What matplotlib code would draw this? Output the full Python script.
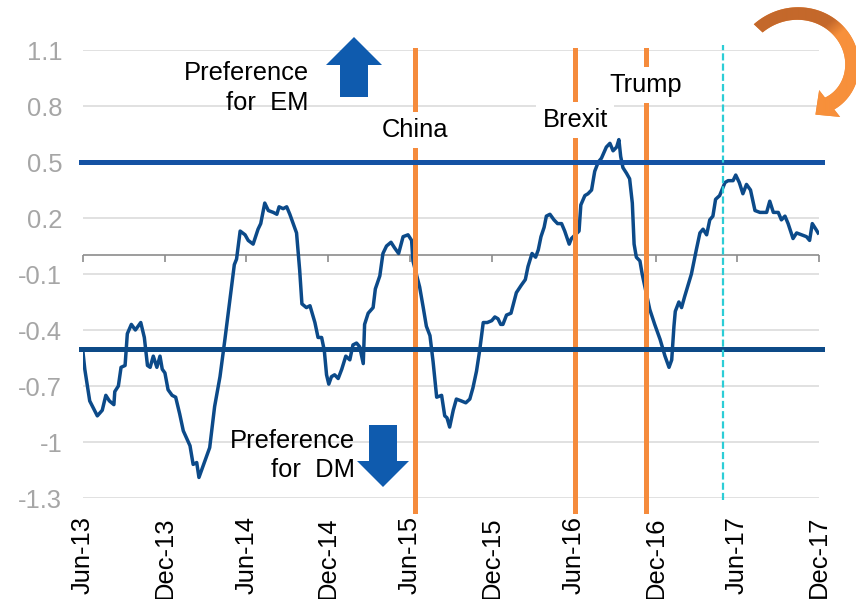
import numpy as np
import pandas as pd
import matplotlib.pyplot as plt
from matplotlib.patches import FancyArrow, Polygon
from matplotlib.colors import to_rgb

plt.rcParams['font.family'] = ['Liberation Sans', 'DejaVu Sans']

# EM vs DM preference indicator
dates = [
    '2013-06-01', '2013-06-05', '2013-06-16', '2013-07-03', '2013-07-14', '2013-07-22', '2013-07-30',
    '2013-08-09', '2013-08-11', '2013-08-19', '2013-08-25', '2013-09-03', '2013-09-08', '2013-09-17',
    '2013-09-26', '2013-10-08', '2013-10-16', '2013-10-23', '2013-10-29', '2013-11-05', '2013-11-13',
    '2013-11-20', '2013-11-25', '2013-12-01', '2013-12-08', '2013-12-17', '2013-12-25', '2014-01-03',
    '2014-01-11', '2014-01-26', '2014-02-02', '2014-02-10', '2014-02-15', '2014-02-24', '2014-03-11',
    '2014-03-22', '2014-04-03', '2014-04-14', '2014-04-25', '2014-05-05', '2014-05-10', '2014-05-18',
    '2014-05-29', '2014-06-05', '2014-06-16', '2014-06-27', '2014-07-03', '2014-07-12', '2014-07-20',
    '2014-07-31', '2014-08-08', '2014-08-13', '2014-08-22', '2014-08-30', '2014-09-06', '2014-09-21',
    '2014-09-28', '2014-10-03', '2014-10-13', '2014-10-21', '2014-11-01', '2014-11-08', '2014-11-16',
    '2014-11-22', '2014-11-27', '2014-12-02', '2014-12-08', '2014-12-15', '2014-12-23', '2014-12-31',
    '2015-01-09', '2015-01-18', '2015-01-25', '2015-02-02', '2015-02-09', '2015-02-17', '2015-02-20',
    '2015-02-28', '2015-03-11', '2015-03-16', '2015-03-26', '2015-04-02', '2015-04-10', '2015-04-20',
    '2015-04-28', '2015-05-07', '2015-05-17', '2015-05-28', '2015-06-05', '2015-06-08', '2015-06-23',
    '2015-07-01', '2015-07-08', '2015-07-16', '2015-07-23', '2015-07-31', '2015-08-11', '2015-08-18',
    '2015-08-23', '2015-08-29', '2015-09-06', '2015-09-13', '2015-09-24', '2015-10-04', '2015-10-13',
    '2015-10-20', '2015-10-28', '2015-11-04', '2015-11-12', '2015-11-21', '2015-12-01', '2015-12-08',
    '2015-12-15', '2015-12-21', '2015-12-26', '2016-01-03', '2016-01-13', '2016-01-25', '2016-02-05',
    '2016-02-14', '2016-02-20', '2016-02-29', '2016-03-08', '2016-03-14', '2016-03-20', '2016-03-27',
    '2016-04-01', '2016-04-09', '2016-04-18', '2016-04-26', '2016-05-05', '2016-05-12', '2016-05-22',
    '2016-05-27', '2016-06-13', '2016-06-17', '2016-06-26', '2016-07-03', '2016-07-11', '2016-07-18',
    '2016-07-26', '2016-08-02', '2016-08-13', '2016-08-21', '2016-08-28', '2016-09-05', '2016-09-10',
    '2016-09-14', '2016-09-19', '2016-09-27', '2016-10-04', '2016-10-10', '2016-10-14', '2016-10-19',
    '2016-10-27', '2016-11-01', '2016-11-18', '2016-11-29', '2016-12-11', '2016-12-22', '2016-12-31',
    '2017-01-06', '2017-01-11', '2017-01-14', '2017-01-22', '2017-01-28', '2017-02-04', '2017-02-19',
    '2017-03-02', '2017-03-10', '2017-03-17', '2017-03-25', '2017-04-01', '2017-04-08', '2017-04-14',
    '2017-04-23', '2017-05-05', '2017-05-12', '2017-05-23', '2017-05-29', '2017-06-06', '2017-06-14',
    '2017-06-22', '2017-07-01', '2017-07-11', '2017-07-22', '2017-07-29', '2017-08-06', '2017-08-13',
    '2017-08-21', '2017-09-01', '2017-09-08', '2017-09-16', '2017-09-23', '2017-10-04', '2017-10-12',
    '2017-10-23', '2017-11-03', '2017-11-10', '2017-11-16', '2017-11-24', '2017-11-29',
]
values = [
    -0.52, -0.61, -0.78, -0.86, -0.83, -0.75, -0.78,
    -0.80, -0.73, -0.70, -0.60, -0.59, -0.42, -0.37,
    -0.40, -0.36, -0.44, -0.59, -0.60, -0.54, -0.60,
    -0.54, -0.61, -0.63, -0.72, -0.75, -0.76, -0.85,
    -0.94, -1.02, -1.12, -1.11, -1.19, -1.13, -1.03,
    -0.81, -0.65, -0.45, -0.24, -0.05, -0.02, 0.13,
    0.11, 0.08, 0.06, 0.14, 0.17, 0.28, 0.24,
    0.23, 0.22, 0.26, 0.25, 0.26, 0.22, 0.12,
    -0.08, -0.26, -0.28, -0.27, -0.36, -0.44, -0.44,
    -0.51, -0.64, -0.69, -0.65, -0.64, -0.66, -0.61,
    -0.54, -0.56, -0.48, -0.47, -0.49, -0.58, -0.37,
    -0.31, -0.28, -0.18, -0.11, 0.01, 0.05, 0.07,
    0.04, 0.01, 0.10, 0.11, 0.08, -0.03, -0.17,
    -0.28, -0.38, -0.43, -0.57, -0.76, -0.75, -0.86,
    -0.87, -0.92, -0.83, -0.77, -0.78, -0.79, -0.77,
    -0.71, -0.62, -0.51, -0.36, -0.36, -0.35, -0.33,
    -0.34, -0.37, -0.37, -0.32, -0.31, -0.20, -0.16,
    -0.13, -0.06, 0.01, -0.01, 0.03, 0.10, 0.15,
    0.21, 0.22, 0.19, 0.17, 0.17, 0.13, 0.06,
    0.09, 0.13, 0.27, 0.32, 0.33, 0.35, 0.45,
    0.50, 0.52, 0.58, 0.60, 0.56, 0.58, 0.62,
    0.53, 0.47, 0.44, 0.41, 0.28, 0.06, -0.01,
    -0.03, -0.10, -0.29, -0.37, -0.45, -0.54, -0.60,
    -0.56, -0.38, -0.30, -0.25, -0.28, -0.22, -0.10,
    0.03, 0.12, 0.14, 0.11, 0.19, 0.21, 0.30,
    0.32, 0.39, 0.40, 0.40, 0.43, 0.39, 0.33,
    0.38, 0.35, 0.24, 0.23, 0.23, 0.23, 0.29,
    0.23, 0.23, 0.19, 0.21, 0.17, 0.09, 0.12,
    0.11, 0.10, 0.08, 0.17, 0.14, 0.12,
]

events = ['China', 'Brexit', 'Trump']
event_dates = ['2015-06-13', '2016-06-04', '2016-11-09']
event_label_y = [0.634, 0.689, 0.875]
latest_date = '2017-04-30'

thresholds = [0.5, -0.5]
threshold_colors = ['#1452A3', '#0D4A87']
y_ticks = [1.1, 0.8, 0.5, 0.2, -0.1, -0.4, -0.7, -1.0, -1.3]
x_ticks = pd.date_range('2013-06-01', '2017-12-01', freq='6MS')

FS = 18.4
fig = plt.figure(figsize=(8.56, 5.99), dpi=100)
ax = fig.add_axes([83 / 856, 1 - 498 / 599, 736 / 856, 448 / 599])

ax.plot(pd.to_datetime(dates), values, color='#0C4A89', lw=2.5, zorder=2)

for d in event_dates:
    ax.axvline(pd.Timestamp(d), ymin=-0.029, ymax=1, color='#F58B3C', lw=3.6,
               zorder=3, clip_on=False)
for lvl, c in zip(thresholds, threshold_colors):
    ax.axhline(lvl, xmin=-0.003, xmax=1.004, color=c, lw=3.6, zorder=4, clip_on=False)
ax.axvline(pd.Timestamp(latest_date), ymin=-0.005, ymax=1.011, color='#2CCDD6', lw=1.6,
           ls=(0, (3.2, 1.4)), zorder=5, clip_on=False)

for label, d, y in zip(events, event_dates, event_label_y):
    ax.text(pd.Timestamp(d), y, label, ha='center', va='baseline', fontsize=FS, zorder=6,
            bbox=dict(facecolor='white', edgecolor='none', pad=4.5))

# zero line with half-year tick marks
ax.axhline(0, color='#8C8C8C', lw=1.2, zorder=1)
ax.plot(x_ticks, np.zeros(len(x_ticks)), ls='none', marker=3, ms=5, mew=1.2,
        color='#8C8C8C', zorder=1, clip_on=False)

ax.set_xlim(x_ticks[0], x_ticks[-1])
ax.set_ylim(-1.3, 1.1)
ax.set_yticks(y_ticks)
ax.set_yticklabels([f'{v:g}' for v in y_ticks])
ax.set_xticks(x_ticks)
ax.set_xticklabels(x_ticks.strftime('%b-%y'), rotation=90)
ax.tick_params(axis='y', length=0, pad=15, labelsize=FS, labelcolor='#A6A6A6')
ax.tick_params(axis='x', length=0, pad=13, labelsize=FS)
ax.yaxis.grid(True, color='#D9D9D9', lw=1.1, zorder=0)
ax.set_axisbelow(True)
for s in ax.spines.values():
    s.set_visible(False)

# annotation layer in pixel units (y down)
deco = fig.add_axes([0, 0, 1, 1], zorder=5)
deco.axis('off')

deco.add_patch(FancyArrow(354, 97, 0, -60, width=28, head_width=56, head_length=28,
                          length_includes_head=True, color='#0F5BAE', lw=0))
deco.add_patch(FancyArrow(383, 425, 0, 62, width=28, head_width=52, head_length=26,
                          length_includes_head=True, color='#0F5BAE', lw=0))
deco.text(309, 80, 'Preference', ha='right', va='baseline', fontsize=FS)
deco.text(309, 110, 'for  EM', ha='right', va='baseline', fontsize=FS)
deco.text(355, 448, 'Preference', ha='right', va='baseline', fontsize=FS)
deco.text(355, 477, 'for  DM', ha='right', va='baseline', fontsize=FS)

# curved arrow: a tightening spiral band with a triangular head
cx, cy = 805, 72
theta = np.radians(np.linspace(137, -52, 80))
r = 40 + (np.degrees(theta) + 52) / 189 * 24
w = 15 - (np.degrees(theta) + 52) / 189 * 3
ux, uy = np.cos(theta), -np.sin(theta)
outer = np.column_stack([cx + (r + w / 2) * ux, cy + (r + w / 2) * uy])
inner = np.column_stack([cx + (r - w / 2) * ux, cy + (r - w / 2) * uy])
th, re = theta[-1], r[-1]
base = np.array([cx + re * np.cos(th), cy - re * np.sin(th)])
radial = np.array([np.cos(th), -np.sin(th)])
tang = np.array([np.sin(th), np.cos(th)])
tang = -tang if tang[0] > 0 else tang
head = [base + 17 * radial, base + 18 * tang, base - 17 * radial]
swoosh = Polygon(np.vstack([outer, head, inner[::-1]]), closed=True, lw=0, fc='#F08A3A',
                 transform=deco.transData)
deco.add_patch(swoosh)
gx, gy = np.meshgrid(np.linspace(740, 856, 120), np.linspace(0, 130, 130))
t = np.clip((gx - 822) / 25 + (gy - 28) / 20, 0, 1)
dark, light = np.array(to_rgb('#C4682B')), np.array(to_rgb('#F7903B'))
shade = deco.imshow(dark + t[..., None] * (light - dark), extent=(740, 856, 130, 0),
                    origin='upper', aspect='auto', interpolation='bilinear', zorder=3)
shade.set_clip_path(swoosh)

deco.set_xlim(0, 856)
deco.set_ylim(599, 0)

fig.savefig('out.png', dpi=100)
